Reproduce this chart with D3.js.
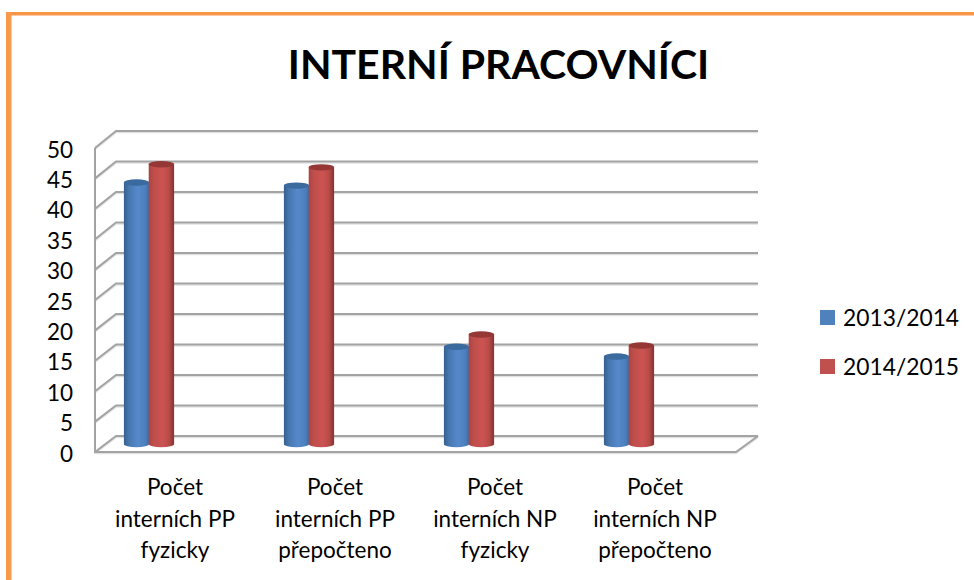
<!DOCTYPE html>
<html><head><meta charset="utf-8">
<script src="https://cdn.jsdelivr.net/npm/d3@7"></script>
<style>html,body{margin:0;padding:0;background:#fff}svg{display:block}text{font-family:Lato,"Open Sans",sans-serif;fill:#000}</style>
</head><body><svg id="c" width="974" height="580"></svg>
<script>
const titleText = "INTERNÍ PRACOVNÍCI";
const categories = [["Počet","interních PP","fyzicky"],["Počet","interních PP","přepočteno"],["Počet","interních NP","fyzicky"],["Počet","interních NP","přepočteno"]];
const seriesNames = ["2013/2014","2014/2015"];
const values2013 = [43, 42.5, 16, 14.4];
const values2014 = [46, 45.5, 18, 16.2];
const yTicks = [0,5,10,15,20,25,30,35,40,45,50];
const seriesValues = [values2013, values2014];
const colors = ["#4f81bd","#c0504d"];
const topColors = ["#3a6a9e","#953735"];

const svg = d3.select("#c");
const defs = svg.append("defs");
function grad(id, stops){
  const g = defs.append("linearGradient").attr("id",id).attr("x1",0).attr("x2",1).attr("y1",0).attr("y2",0);
  stops.forEach(s=>g.append("stop").attr("offset",s[0]).attr("stop-color",s[1]));
}
grad("g0",[[0,"#35608f"],[.2,"#4777ae"],[.55,"#5589cb"],[.85,"#4c7fbc"],[1,"#3f6ca3"]]);
grad("g1",[[0,"#a94442"],[.2,"#c04e4b"],[.55,"#cb5452"],[.8,"#b84b49"],[1,"#833230"]]);

// frame
svg.append("rect").attr("x",6).attr("y",12).attr("width",968).attr("height",3.5).attr("fill","#f79646");
svg.append("rect").attr("x",6).attr("y",12).attr("width",5.5).attr("height",568).attr("fill","#f79a4c");

svg.append("text").attr("x",498.5).attr("y",79).attr("text-anchor","middle")
  .attr("font-size",41).attr("font-weight",700).text(titleText);

const yFront = d3.scaleLinear().domain([0,50]).range([452,148]);
const yBack  = d3.scaleLinear().domain([0,50]).range([436,131]);
const yBar   = d3.scaleLinear().domain([0,50]).range([444,140]);
const xFront = d3.scaleBand().domain(d3.range(categories.length)).range([95,735]);
const xBack  = d3.scaleLinear().domain([0,1]).range([116,758]);
const xFloor = d3.scaleLinear().domain([0,1]).range([95,736]);

const grid = svg.append("g").attr("fill","none").attr("stroke","#a3a3a3").attr("stroke-width",2);
const shadow = svg.insert("g","g").attr("fill","none").attr("stroke","#e2e2e2").attr("stroke-width",1.5).attr("transform","translate(0,1.6)");
[shadow,grid].forEach(g=>{
  yTicks.forEach(t=>{
    g.append("path").attr("d",d3.line()([[xFloor(0),yFront(t)],[xBack(0),yBack(t)],[xBack(1),yBack(t)]]));
  });
  g.append("path").attr("d",d3.line()([[xFloor(0),yFront(50)],[xFloor(0),yFront(0)],[xFloor(1),yFront(0)],[xBack(1),yBack(0)]]));
});

// axis labels
const yAxis = svg.append("g").attr("transform","translate(80,1)")
  .call(d3.axisLeft(yFront).tickValues(yTicks).tickSize(0).tickPadding(7));
yAxis.select(".domain").remove();
yAxis.selectAll("text").attr("font-size",22.5).attr("font-family","Lato").attr("fill","#000").attr("dy","0.36em");

// bars
const step = xFront.step();
const barW = step*0.155;
const barOffset = -26;
categories.forEach((c,i)=>{
  const cx = xFront(i)+xFront.bandwidth()/2+barOffset;
  seriesValues.forEach((vals,s)=>{
    const x0 = cx + (s-1)*barW - .3, x1 = x0+barW+(s?0.6:0.3);
    const top = yBar(vals[i]), base = yBar(0);
    const rx=(x1-x0)/2, ry=3.2;
    svg.append("path").attr("fill",`url(#g${s})`)
      .attr("d",`M${x0},${top}L${x0},${base}A${rx},${ry} 0 0 0 ${x1},${base}L${x1},${top}Z`);
    svg.append("ellipse").attr("cx",(x0+x1)/2).attr("cy",top).attr("rx",rx).attr("ry",ry).attr("fill",topColors[s]);
  });
});

// category labels
categories.forEach((c,i)=>{
  const cx = xFront(i)+xFront.bandwidth()/2;
  c.forEach((line,j)=>{
    svg.append("text").attr("x",cx).attr("y",495+j*31.5).attr("text-anchor","middle").attr("font-size",22.5).text(line);
  });
});

// legend
seriesNames.forEach((n,i)=>{
  const y = 310+i*49;
  svg.append("rect").attr("x",820).attr("y",y).attr("width",15).attr("height",15).attr("fill",colors[i]);
  svg.append("text").attr("x",843).attr("y",y+15.5).attr("font-size",22.8).text(n);
});
</script></body></html>
